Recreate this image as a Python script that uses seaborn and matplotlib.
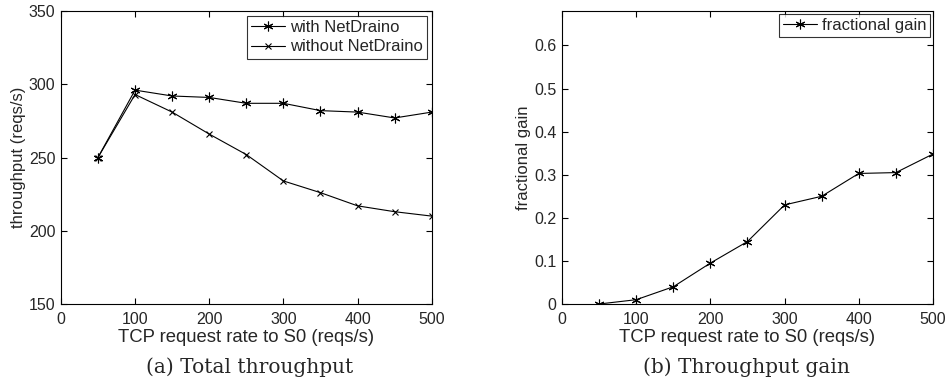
import numpy as np
import pandas as pd
import matplotlib
matplotlib.use("Agg")
import matplotlib.pyplot as plt
import seaborn as sns

# data
rate = [50, 100, 150, 200, 250, 300, 350, 400, 450, 500]
with_nd = [250, 296, 292, 291, 287, 287, 282, 281, 277, 281]
without_nd = [250, 293, 281, 266, 252, 234, 226, 217, 213, 210]
gain = [0.0, 0.01, 0.04, 0.095, 0.145, 0.23, 0.25, 0.303, 0.305, 0.348]

sns.set_theme(style="ticks")
plt.rcParams['font.family'] = ['Liberation Sans', 'DejaVu Sans']
plt.rcParams['axes.edgecolor'] = 'black'
plt.rcParams['axes.linewidth'] = 0.8

fig = plt.figure(figsize=(9.51, 3.8), dpi=100)
ax1 = fig.add_axes([0.064, 0.2, 0.390, 0.771])
ax2 = fig.add_axes([0.591, 0.2, 0.390, 0.771])

star = (6, 2, 0)  # line-art asterisk like matlab '*'
line_kw = dict(color="black", linewidth=0.8, markersize=7, markeredgewidth=0.8,
               markeredgecolor="black")
leg_kw = dict(loc="upper right", fontsize=12, frameon=True, fancybox=False,
              edgecolor='black', borderpad=0.25, labelspacing=0.25,
              handlelength=2.0, handletextpad=0.3, borderaxespad=0.3)

# (a) total throughput
sns.lineplot(x=rate, y=with_nd, marker=star, label="with NetDraino", ax=ax1, **line_kw)
sns.lineplot(x=rate, y=without_nd, marker="x", label="without NetDraino", ax=ax1,
             **dict(line_kw, markersize=5))
ax1.set_xlim(0, 500)
ax1.set_ylim(150, 350)
ax1.set_xticks(np.arange(0, 501, 100))
ax1.set_yticks(np.arange(150, 351, 50))
ax1.set_xlabel("TCP request rate to S0 (reqs/s)", fontsize=13.3, labelpad=1)
ax1.set_ylabel("throughput (reqs/s)", fontsize=12, labelpad=2)
leg = ax1.legend(**leg_kw)
leg.get_frame().set_linewidth(0.8)

# (b) fractional gain
sns.lineplot(x=rate, y=gain, marker=star, label="fractional gain", ax=ax2, **line_kw)
ax2.set_xlim(0, 500)
ax2.set_ylim(0, 0.68)
ax2.set_xticks(np.arange(0, 501, 100))
ax2.set_yticks(np.arange(0, 0.61, 0.1))
ax2.set_yticklabels(["0", "0.1", "0.2", "0.3", "0.4", "0.5", "0.6"])
ax2.set_xlabel("TCP request rate to S0 (reqs/s)", fontsize=13.3, labelpad=1)
ax2.set_ylabel("fractional gain", fontsize=12, labelpad=2)
leg2 = ax2.legend(**dict(leg_kw, borderaxespad=0.15))
leg2.get_frame().set_linewidth(0.8)

for ax in (ax1, ax2):
    ax.tick_params(direction="in", top=True, right=True, labelsize=11.5,
                   length=4, width=0.8, color="black")
    ax.tick_params(axis="x", pad=6)
    ax.tick_params(axis="y", pad=4)

fig.text(0.262, 0.034, "(a) Total throughput", ha="center", va="center",
         fontsize=14.5, family=["DejaVu Serif"])
fig.text(0.785, 0.034, "(b) Throughput gain", ha="center", va="center",
         fontsize=14.5, family=["DejaVu Serif"])

fig.savefig("out.png", dpi=100)
